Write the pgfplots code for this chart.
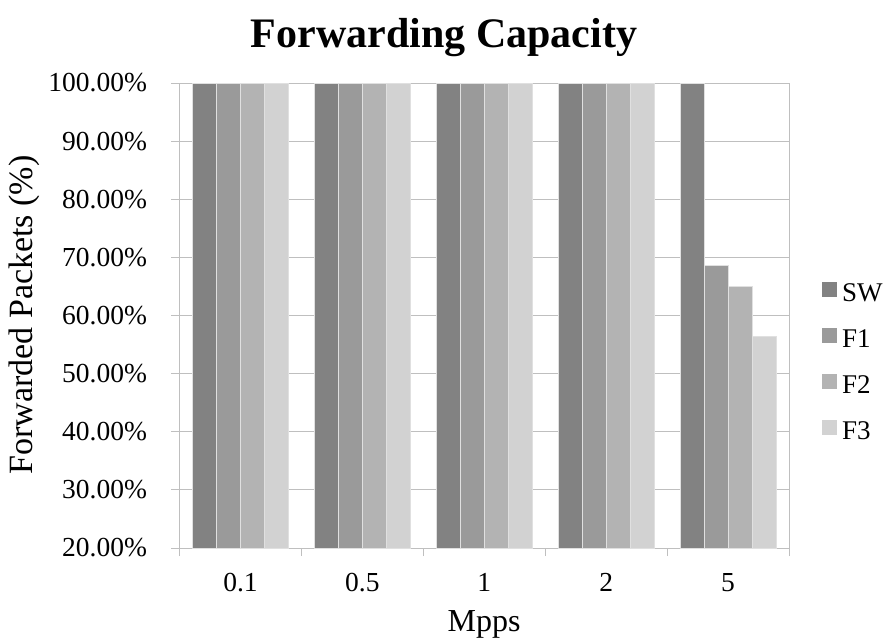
\documentclass[border=0pt]{standalone}
\usepackage{pgfplots}
\pgfplotsset{compat=1.18}
\usepackage{fontspec}
\setmainfont{Liberation Serif}
\definecolor{cSW}{HTML}{828282}
\definecolor{cF1}{HTML}{9A9A9A}
\definecolor{cF2}{HTML}{B3B3B3}
\definecolor{cF3}{HTML}{D2D2D2}
\definecolor{gridc}{HTML}{BFBFBF}
\begin{document}
\begin{tikzpicture}[x=1pt,y=1pt]
\useasboundingbox (0,0) rectangle (891,641);
\node[font=\fontsize{42}{48}\selectfont\bfseries] at (444,603) {Forwarding Capacity};
\node[font=\fontsize{32}{38}\selectfont] at (484,17) {Mpps};
\node[font=\fontsize{34}{40}\selectfont, rotate=90] at (24,326) {Forwarded Packets (\%)};
\begin{axis}[
  at={(179.5pt,93pt)}, anchor=south west,
  scale only axis, width=609.5pt, height=465pt,
  xmin=-0.5, xmax=4.5, ymin=20, ymax=100,
  ybar=0pt, bar width=24pt,
  xtick={-0.5,0.5,...,4.5},
  x tick label as interval,
  xticklabels={0.1,0.5,1,2,5},
  ytick={20,30,...,100},
  /pgf/number format/assume math mode=true,
  yticklabel={\pgfmathprintnumber[fixed,fixed zerofill,precision=2]{\tick}\%},
  ymajorgrids,
  grid style={gridc, line width=0.8pt},
  axis line style={gridc, line width=0.8pt},
  tick style={gridc, line width=0.8pt},
  tick align=outside,
  major tick length=8pt,
  xtick pos=bottom, ytick pos=left,
  ticklabel style={font=\fontsize{27.5}{32}\selectfont},
  xticklabel style={anchor=base, yshift=-35pt},
  yticklabel style={xshift=-21pt, anchor=east},
  legend style={at={(1,0.397)}, anchor=west, xshift=30pt, draw=none, fill=none,
    font=\fontsize{27}{32}\selectfont, row sep=21.5pt,
    nodes={text height=18pt, text depth=5pt, inner ysep=0pt, inner xsep=5pt}},
  legend cell align=left,
  legend image code/.code={\fill[#1, draw=none] (0pt,-2pt) rectangle (15pt,13pt);},
  every axis plot/.append style={draw=white!88!black, line width=0.5pt},
]
\addplot[fill=cSW] coordinates {(0,100) (1,100) (2,100) (3,100) (4,100)};
\addplot[fill=cF1] coordinates {(0,100) (1,100) (2,100) (3,100) (4,68.6)};
\addplot[fill=cF2] coordinates {(0,100) (1,100) (2,100) (3,100) (4,65.0)};
\addplot[fill=cF3] coordinates {(0,100) (1,100) (2,100) (3,100) (4,56.4)};
\legend{SW,F1,F2,F3}
\end{axis}
\end{tikzpicture}
\end{document}
